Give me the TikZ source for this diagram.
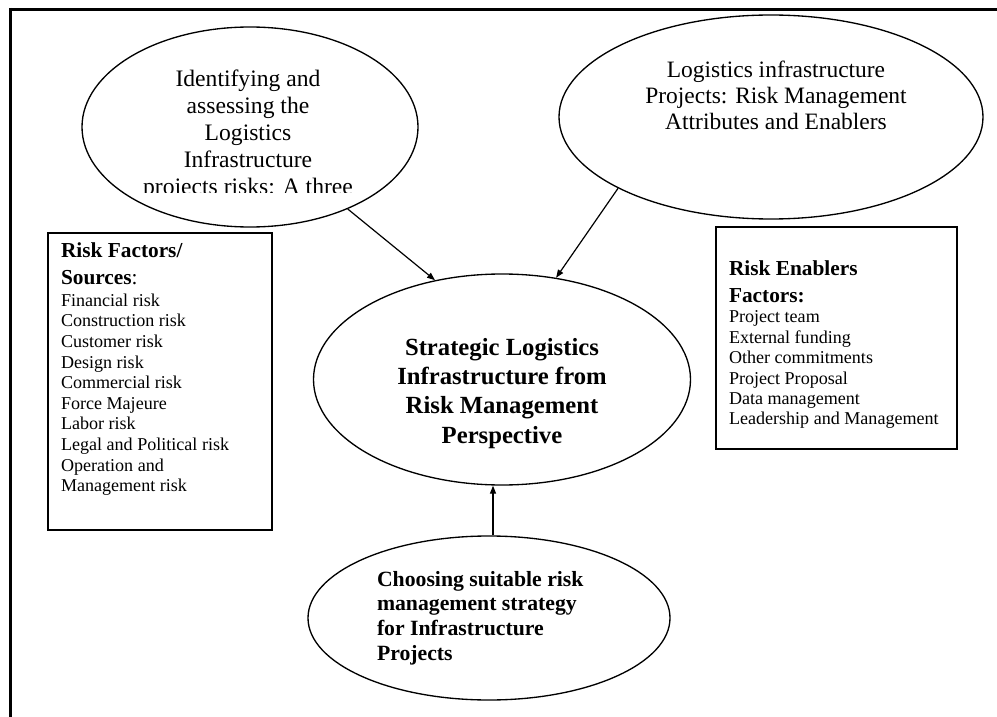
\documentclass[tikz,border=0pt]{standalone}
\usepackage{fontspec}
\setmainfont{Liberation Serif}
\usetikzlibrary{shapes.geometric,arrows.meta}
\begin{document}
\begin{tikzpicture}[x=0.75pt,y=-0.75pt,
  bubble/.style={ellipse,draw,line width=1pt,inner sep=0pt},
  listbox/.style={rectangle,draw,line width=1pt,inner sep=0pt},
  txt/.style={inner sep=0pt,outer sep=0pt},
  link/.style={line width=0.9pt,-{Triangle[length=6pt,width=4.5pt]}},
  frameline/.style={line width=2.25pt}]
\useasboundingbox (0,0) rectangle (997,717);

% page frame: top and left edges
\coordinate (fa) at (9,9.5);
\coordinate (fb) at (997,9.5);
\coordinate (fc) at (10.5,8);
\coordinate (fd) at (10.5,717);
\draw[frameline] (fa) -- (fb);
\draw[frameline] (fc) -- (fd);

% ellipses
\node[bubble,minimum width=252pt,minimum height=150pt] (ident) at (250,127) {};
\node[bubble,minimum width=318pt,minimum height=153pt] (attr) at (771,117) {};
\node[bubble,minimum width=282.75pt,minimum height=158.25pt] (core) at (502,379.5) {};
\node[bubble,minimum width=271.5pt,minimum height=123pt] (choose) at (489,618) {};

% list boxes
\node[listbox,minimum width=168pt,minimum height=222.75pt] (sources) at (160,381.5) {};
\node[listbox,minimum width=180.75pt,minimum height=166.5pt] (enablers) at (836.5,338) {};

% text of the upper left ellipse, cut off at its last line
\begin{scope}
\clip (60,40) rectangle (440,192.5);
\node[txt,anchor=north,align=center,font=\fontsize{17.7}{20.25}\selectfont] (identtext) at (248,69.9)
  {Identifying and\\assessing the\\Logistics\\Infrastructure\\projects risks: A three};
\end{scope}

\node[txt,anchor=north,align=center,font=\fontsize{17.6}{19.5}\selectfont] (attrtext) at (776,61)
  {Logistics infrastructure\\Projects: Risk Management\\Attributes and Enablers};

\node[txt,anchor=north,align=center,font=\bfseries\fontsize{18.5}{22}\selectfont] (coretext) at (502,338)
  {Strategic Logistics\\Infrastructure from\\Risk Management\\Perspective};

\node[txt,anchor=north west,align=left,font=\bfseries\fontsize{16.3}{18.5}\selectfont] (choosetext) at (377,571)
  {Choosing suitable risk\\management strategy\\for Infrastructure\\Projects};

% risk sources
\node[txt,anchor=north west,align=left,font=\fontsize{16}{20.5}\selectfont] (srchead) at (61,242.4)
  {\textbf{Risk Factors/}\\\textbf{Sources}:};
\node[txt,anchor=north west,align=left,font=\fontsize{13.55}{15.45}\selectfont] (srclist) at (61,293.7)
  {Financial risk\\Construction risk\\Customer risk\\Design risk\\Commercial risk\\Force Majeure\\Labor risk\\Legal and Political risk\\Operation and\\Management risk};

% risk enablers
\node[txt,anchor=north west,align=left,font=\fontsize{16}{20.5}\selectfont] (enhead) at (729,260.4)
  {\textbf{Risk Enablers}\\\textbf{Factors:}};
\node[txt,anchor=north west,align=left,font=\fontsize{13.55}{15.3}\selectfont] (enlist) at (729,311)
  {Project team\\External funding\\Other commitments\\Project Proposal\\Data management\\Leadership and Management};

% connectors
\draw[link] (ident.-40.2) -- (core.124.7);
\draw[link] (attr.-155.1) -- (core.62.4);
\coordinate (vx) at (493,0);
\draw[link] (vx |- choose.north) -- (vx |- core.south);
\end{tikzpicture}
\end{document}
